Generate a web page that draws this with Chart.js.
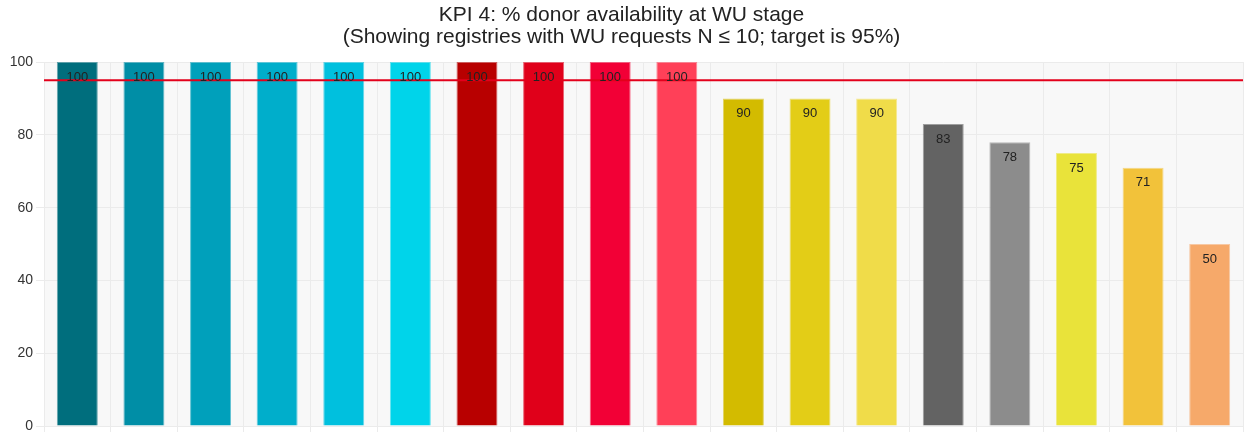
<!DOCTYPE html>
<html>
<head>
<meta charset="utf-8">
<script src="https://cdn.jsdelivr.net/npm/chart.js@4"></script>
<style>
html,body{margin:0;padding:0;background:#fff;}
#wrap{width:1248px;height:432px;position:relative;}
</style>
</head>
<body>
<div id="wrap"><canvas id="c" width="1248" height="432"></canvas></div>
<script>
const categories = ["R1","R2","R3","R4","R5","R6","R7","R8","R9","R10","R11","R12","R13","R14","R15","R16","R17","R18"];
const values = [100,100,100,100,100,100,100,100,100,100,90,90,90,83,78,75,71,50];
const barColors = ["#006e7d","#008ea6","#00a0bb","#00aecb","#00c0de","#00d4ea","#b80000","#e0001a","#f20036","#ff4058","#d3bb00","#e3cd17","#f0dc49","#636363","#8c8c8c","#e9e33a","#f2c23a","#f6a96a"];
const target = 95;
const yTicks = [0,20,40,60,80,100];
const titleLines = ["KPI 4: % donor availability at WU stage","(Showing registries with WU requests N \u2264 10; target is 95%)"];

const bgPlugin = {
  id:'bg',
  beforeDraw(chart){
    const {ctx, chartArea:a} = chart;
    ctx.save(); ctx.fillStyle='#f8f8f8';
    ctx.fillRect(a.left,a.top,a.right-a.left,a.bottom-a.top);
    ctx.restore();
  }
};
const overlayPlugin = {
  id:'overlay',
  afterDatasetsDraw(chart){
    const {ctx, chartArea:a, scales:{y}} = chart;
    const ty = y.getPixelForValue(target);
    ctx.save();
    ctx.strokeStyle='#e3001b'; ctx.lineWidth=2;
    ctx.beginPath(); ctx.moveTo(a.left,ty); ctx.lineTo(a.right,ty); ctx.stroke();
    const meta = chart.getDatasetMeta(0);
    ctx.fillStyle='#222'; ctx.font='13px "Liberation Sans", Arial, sans-serif';
    ctx.textAlign='center'; ctx.textBaseline='middle';
    meta.data.forEach((bar,i)=>{
      ctx.fillText(String(values[i]), bar.x, bar.y+15);
    });
    ctx.restore();
  }
};

new Chart(document.getElementById('c'), {
  type:'bar',
  data:{labels:categories, datasets:[{data:values, backgroundColor:barColors, borderColor:barColors.map(c=>c+'99'), borderWidth:1, categoryPercentage:1, barPercentage:0.615}]},
  options:{
    responsive:false, animation:false,
    layout:{padding:{top:0,right:5,left:0,bottom:0}},
    plugins:{
      legend:{display:false}, tooltip:{enabled:false},
      title:{display:true, text:titleLines, color:'#222', font:{family:'"Liberation Sans", Arial, sans-serif', size:21, weight:'normal', lineHeight:1.05}, padding:{top:4,bottom:14}}
    },
    scales:{
      x:{
        ticks:{display:false},
        grid:{color:'#ebebeb', tickLength:6, offset:true},
        border:{color:'#ebebeb'},
        afterFit(s){ s.height = 6; s.paddingLeft = 0; s.paddingRight = 0; }
      },
      y:{
        min:0, max:100,
        afterBuildTicks(s){ s.ticks = yTicks.map(v=>({value:v})); },
        ticks:{color:'#333', font:{family:'"Liberation Sans", Arial, sans-serif', size:14}, padding:3},
        grid:{color:'#ebebeb', tickLength:8},
        border:{color:'#ebebeb'},
        afterFit(s){ s.width = 44; s.paddingTop = 0; s.paddingBottom = 0; }
      }
    }
  },
  plugins:[bgPlugin, overlayPlugin]
});
</script>
</body>
</html>
